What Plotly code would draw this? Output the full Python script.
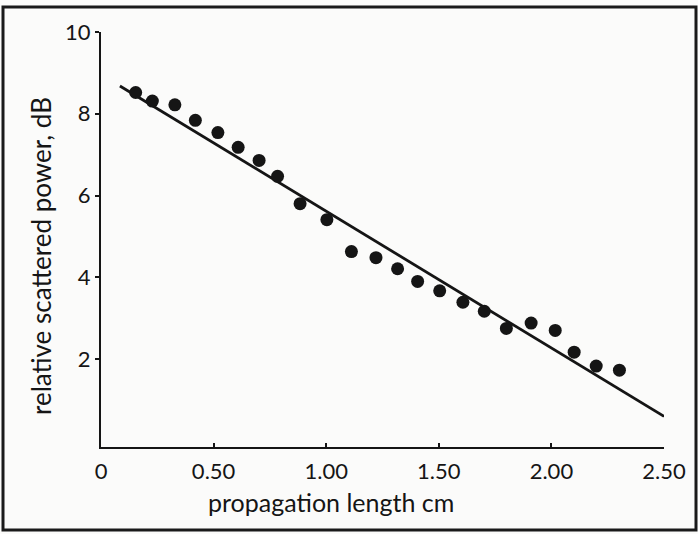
import plotly.graph_objects as go

# measured points
length_cm = [0.154, 0.228, 0.328, 0.419, 0.519, 0.609, 0.702, 0.784, 0.884, 1.003,
             1.112, 1.221, 1.317, 1.406, 1.504, 1.607, 1.702, 1.800, 1.910, 2.017,
             2.101, 2.199, 2.302]
power_db = [8.52, 8.31, 8.22, 7.84, 7.54, 7.18, 6.86, 6.47, 5.80, 5.41,
            4.63, 4.48, 4.21, 3.90, 3.67, 3.39, 3.17, 2.75, 2.88, 2.70,
            2.17, 1.83, 1.73]

# fitted line end points
fit_x = [0.084, 2.50]
fit_y = [8.68, 0.60]

x_tickvals = [0, 0.5, 1.0, 1.5, 2.0, 2.5]
x_ticktext = ["0", "0.50", "1.00", "1.50", "2.00", "2.50"]
y_tickvals = [2, 4, 6, 8, 10]
y_ticktext = ["2", "4", "6", "8", "10"]

ink = "#151515"
font_family = "Lato, 'DejaVu Sans', sans-serif"
tick_font = dict(family=font_family, color=ink, size=22)

fig = go.Figure()
fig.add_trace(go.Scatter(x=fit_x, y=fit_y, mode="lines",
                         line=dict(color=ink, width=2.8), showlegend=False,
                         hoverinfo="skip"))
fig.add_trace(go.Scatter(x=length_cm, y=power_db, mode="markers",
                         marker=dict(color=ink, size=13, line=dict(width=0)),
                         showlegend=False))

W, H = 698, 534
L, R, T, B = 101, 664, 32, 447

fig.update_layout(
    width=W, height=H,
    margin=dict(l=L, r=W - R, t=T, b=H - B),
    paper_bgcolor="#fbfbfa", plot_bgcolor="rgba(0,0,0,0)",
    font=dict(family=font_family, color=ink, size=21),
    xaxis=dict(range=[0, 2.5], tickvals=x_tickvals, ticktext=x_ticktext,
               tickfont=tick_font,
               showgrid=False, zeroline=False, showline=True, linecolor=ink,
               linewidth=2, ticks="inside", ticklen=4, tickwidth=1.5,
               tickcolor=ink, ticklabelstandoff=4, fixedrange=True),
    yaxis=dict(range=[-0.15, 10], tickvals=y_tickvals, ticktext=y_ticktext,
               tickfont=tick_font,
               showgrid=False, zeroline=False, showline=True, linecolor=ink,
               linewidth=2, ticks="outside", ticklen=4, tickwidth=1.5,
               tickcolor=ink, ticklabelstandoff=0, fixedrange=True),
)

def px_x(px):
    return (px - L) / (R - L)

def px_y(py):
    return (B - py) / (B - T)

fig.add_annotation(text="propagation length cm", xref="paper", yref="paper",
                   x=px_x(331), y=px_y(502), showarrow=False,
                   font=dict(size=25, family=font_family, color=ink),
                   xanchor="center", yanchor="middle")
fig.add_annotation(text="relative scattered power, dB", xref="paper", yref="paper",
                   x=px_x(41), y=px_y(256), showarrow=False, textangle=-90,
                   font=dict(size=26, family=font_family, color=ink),
                   xanchor="center", yanchor="middle")

# scanned frame border
fig.add_shape(type="rect", xref="paper", yref="paper",
              x0=px_x(3), x1=px_x(696), y0=px_y(530), y1=px_y(7),
              line=dict(color="#1a1a1a", width=3))

fig.write_html("out.html")
